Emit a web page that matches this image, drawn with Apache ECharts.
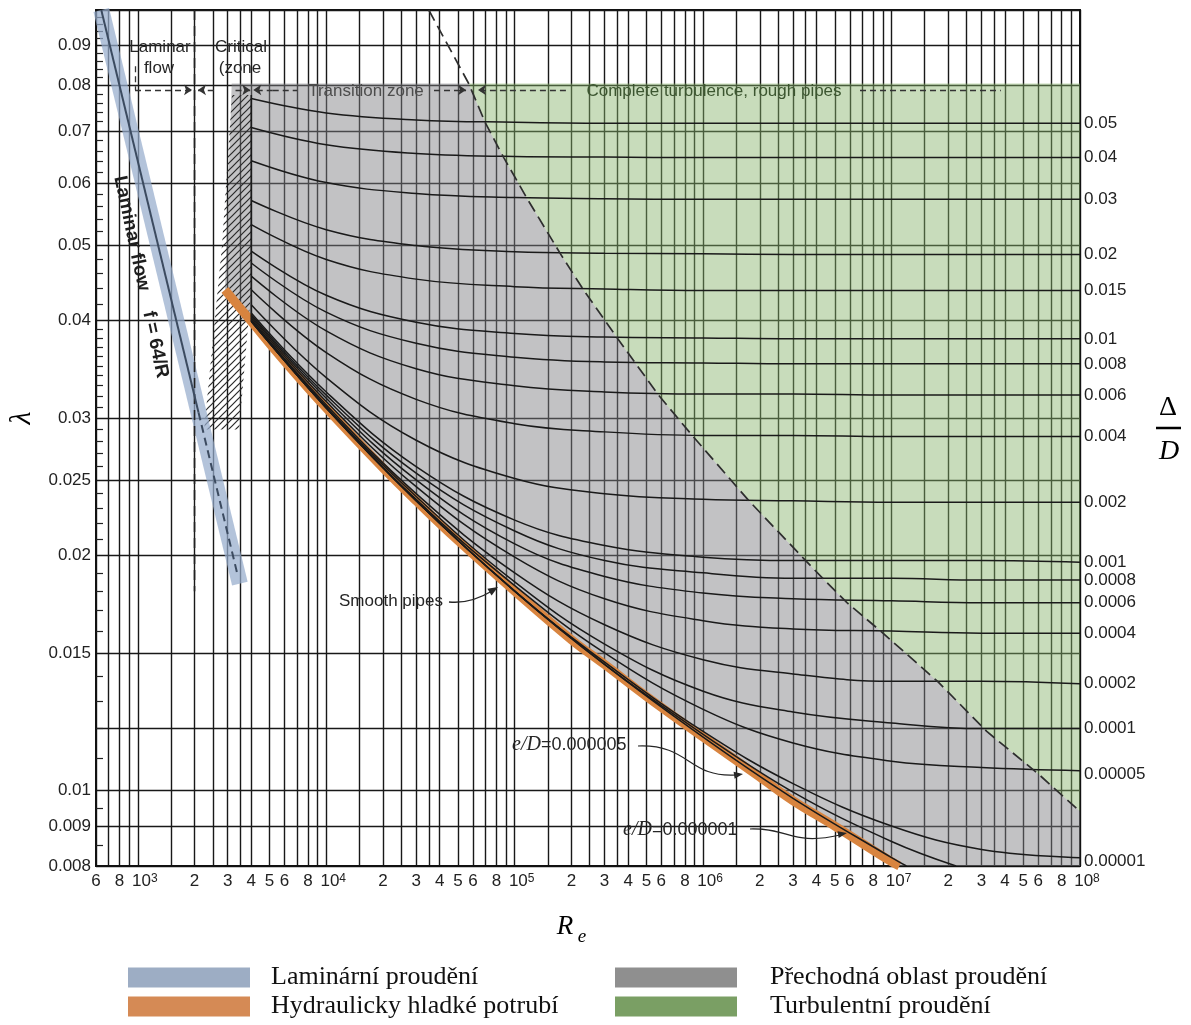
<!DOCTYPE html>
<html>
<head>
<meta charset="utf-8">
<script src="https://cdn.jsdelivr.net/npm/echarts@6/dist/echarts.min.js"></script>
<style>
  html, body { margin: 0; padding: 0; background: #fff; }
  #chart { width: 1191px; height: 1025px; }
</style>
</head>
<body>
<div id="chart"></div>
<script>
// Reynolds numbers where the rough-pipe curves are sampled
const reSamples = [4e3, 1e4, 3e4, 1e5, 3e5, 1e6, 3e6, 1e7, 3e7, 1e8];

// friction factor for each relative roughness
const f_005    = [0.0770, 0.0738, 0.0723, 0.0718, 0.0716, 0.0716, 0.0716, 0.0716, 0.0716, 0.0716];
const f_004    = [0.0707, 0.0672, 0.0655, 0.0649, 0.0648, 0.0647, 0.0647, 0.0647, 0.0647, 0.0647];
const f_003    = [0.0641, 0.0601, 0.0582, 0.0575, 0.0573, 0.0572, 0.0572, 0.0572, 0.0572, 0.0572];
const f_002    = [0.0570, 0.0523, 0.0499, 0.0490, 0.0488, 0.0487, 0.0486, 0.0486, 0.0486, 0.0486];
const f_0015   = [0.0531, 0.0479, 0.0452, 0.0442, 0.0439, 0.0437, 0.0437, 0.0437, 0.0437, 0.0437];
const f_001    = [0.0491, 0.0431, 0.0398, 0.0385, 0.0381, 0.0380, 0.0379, 0.0379, 0.0379, 0.0379];
const f_0008   = [0.0474, 0.0410, 0.0374, 0.0359, 0.0354, 0.0353, 0.0352, 0.0352, 0.0352, 0.0352];
const f_0006   = [0.0456, 0.0388, 0.0347, 0.0330, 0.0324, 0.0322, 0.0322, 0.0321, 0.0321, 0.0321];
const f_0004   = [0.0438, 0.0364, 0.0317, 0.0295, 0.0288, 0.0285, 0.0285, 0.0284, 0.0284, 0.0284];
const f_0002   = [0.0419, 0.0338, 0.0281, 0.0251, 0.0240, 0.0236, 0.0235, 0.0234, 0.0234, 0.0234];
const f_0001   = [0.0409, 0.0324, 0.0260, 0.0222, 0.0206, 0.0199, 0.0197, 0.0197, 0.0197, 0.0196];
const f_00008  = [0.0407, 0.0321, 0.0255, 0.0215, 0.0197, 0.0190, 0.0187, 0.0187, 0.0186, 0.0186];
const f_00006  = [0.0405, 0.0318, 0.0250, 0.0207, 0.0188, 0.0179, 0.0176, 0.0175, 0.0174, 0.0174];
const f_00004  = [0.0403, 0.0315, 0.0245, 0.0199, 0.0176, 0.0165, 0.0161, 0.0160, 0.0159, 0.0159];
const f_00002  = [0.0401, 0.0312, 0.0240, 0.0190, 0.0163, 0.0147, 0.0141, 0.0138, 0.0138, 0.0137];
const f_00001  = [0.0400, 0.0310, 0.0238, 0.0185, 0.0154, 0.0134, 0.0126, 0.0122, 0.0120, 0.0120];
const f_000005 = [0.0399, 0.0310, 0.0236, 0.0183, 0.0150, 0.0127, 0.0115, 0.0109, 0.0107, 0.0106];
const f_000001 = [0.0399, 0.0309, 0.0235, 0.0180, 0.0146, 0.0119, 0.0102, 0.0090, 0.0084, 0.0082];

// the two smallest roughness curves leave the chart at the bottom
const re5e6 = [4e3, 1e4, 3e4, 1e5, 3e5, 1e6, 3e6, 1e7, 2.2e7];
const f_5e6 = [0.0399, 0.0309, 0.0235, 0.0180, 0.0145, 0.0118, 0.00995, 0.0086, 0.0080];
const re1e6 = [4e3, 1e4, 3e4, 1e5, 3e5, 1e6, 3e6, 1e7, 1.2e7];
const f_1e6 = [0.0399, 0.0309, 0.0235, 0.0180, 0.0145, 0.0117, 0.00977, 0.0082, 0.0080];

// smooth pipes (orange band)
const smoothRe = [2900, 4e3, 6e3, 1e4, 2e4, 3e4, 5e4, 1e5, 2e5, 3e5, 5e5, 1e6, 2e6, 3e6, 5e6, 1e7, 1.1e7];
const smoothF  = [0.0438, 0.0399, 0.0355, 0.0309, 0.0259, 0.0235, 0.0209, 0.0180, 0.0156, 0.0145, 0.0132, 0.0117, 0.0104, 0.0097, 0.0090, 0.0081, 0.0080];

// laminar flow f = 64/Re
const lamRe = [640, 3480];
const lamF  = [0.1, 0.0184];
const lamSolidRe = [640, 2100];
const lamSolidF  = [0.1, 0.0305];
const lamDashRe  = [2100, 3400];
const lamDashF   = [0.0305, 0.0188];

// dashed border of complete turbulence
const boundaryRe = [3.5e4, 5.7e4, 7e4, 8.75e4, 1.17e5, 1.75e5, 2.33e5, 3.5e5, 4.4e5, 5.8e5, 8.75e5, 1.75e6, 3.5e6, 4.4e6, 5.8e6, 8.75e6, 1.75e7, 3.2e7, 6e7, 1e8];
const boundaryF  = [0.100, 0.0805, 0.0716, 0.0647, 0.0572, 0.0487, 0.0437, 0.0380, 0.0352, 0.0321, 0.0285, 0.0235, 0.0197, 0.0186, 0.0174, 0.0160, 0.0138, 0.0119, 0.0105, 0.0094];
const zoneTopF = 0.0805;
const zoneLeftRe = 3150;

// hatched critical zone
const hatchRe = [3160, 4035, 4035, 3450, 2250, 2800];
const hatchF  = [0.0778, 0.0778, 0.045, 0.029, 0.029, 0.05];

// axes
const xTickVals = [600, 800, 1e3, 2e3, 3e3, 4e3, 5e3, 6e3, 8e3, 1e4, 2e4, 3e4, 4e4, 5e4, 6e4, 8e4, 1e5,
  2e5, 3e5, 4e5, 5e5, 6e5, 8e5, 1e6, 2e6, 3e6, 4e6, 5e6, 6e6, 8e6, 1e7, 2e7, 3e7, 4e7, 5e7, 6e7, 8e7, 1e8];
const xTickLabels = ['6', '8', '{b|10}{e|3}', '2', '3', '4', '5', '6', '8', '{b|10}{e|4}', '2', '3', '4', '5', '6', '8', '{b|10}{e|5}',
  '2', '3', '4', '5', '6', '8', '{b|10}{e|6}', '2', '3', '4', '5', '6', '8', '{b|10}{e|7}', '2', '3', '4', '5', '6', '8', '{b|10}{e|8}'];
const xGridSteps = [1, 1.5, 2, 2.5, 3, 3.5, 4, 5, 6, 7, 8, 9];
const xGridDecades = [1e2, 1e3, 1e4, 1e5, 1e6, 1e7, 1e8];

const yTickVals = [0.008, 0.009, 0.01, 0.015, 0.02, 0.025, 0.03, 0.04, 0.05, 0.06, 0.07, 0.08, 0.09];
const yTickLabels = ['0.008', '0.009', '0.01', '0.015', '0.02', '0.025', '0.03', '0.04', '0.05', '0.06', '0.07', '0.08', '0.09'];
const yGridVals = [0.008, 0.009, 0.01, 0.012, 0.015, 0.02, 0.025, 0.03, 0.04, 0.05, 0.06, 0.07, 0.08, 0.09, 0.1];
const yMinorVals = [0.0085, 0.0095, 0.011, 0.012, 0.013, 0.014, 0.016, 0.017, 0.018, 0.019, 0.021, 0.022, 0.023, 0.024,
  0.026, 0.027, 0.028, 0.029, 0.031, 0.032, 0.033, 0.034, 0.035, 0.036, 0.037, 0.038, 0.039, 0.042, 0.044, 0.046, 0.048,
  0.052, 0.054, 0.056, 0.058, 0.062, 0.064, 0.066, 0.068, 0.072, 0.074, 0.076, 0.078, 0.082, 0.084, 0.086, 0.088,
  0.092, 0.094, 0.096, 0.098];

// relative roughness labels on the right, at each curve's fully rough value
const rightVals = [0.0716, 0.0647, 0.0572, 0.0487, 0.0437, 0.0379, 0.0352, 0.0321, 0.0284, 0.0234, 0.0196, 0.0186, 0.0174, 0.0159, 0.0137, 0.0120, 0.0105, 0.0081];
const rightLabels = ['0.05', '0.04', '0.03', '0.02', '0.015', '0.01', '0.008', '0.006', '0.004', '0.002', '0.001', '0.0008', '0.0006', '0.0004', '0.0002', '0.0001', '0.00005', '0.00001'];

const roughCurves = [f_005, f_004, f_003, f_002, f_0015, f_001, f_0008, f_0006, f_0004, f_0002,
  f_0001, f_00008, f_00006, f_00004, f_00002, f_00001, f_000005, f_000001];

const FONT = "'Liberation Sans', Arial, sans-serif";
const SERIF = "'Liberation Serif', 'Times New Roman', serif";

const pairs = (xs, ys) => xs.map((x, i) => [x, ys[i]]);
function nearest(arr, v) {
  let best = 0, bd = Infinity;
  arr.forEach((a, i) => { const d = Math.abs(Math.log(a / v)); if (d < bd) { bd = d; best = i; } });
  return best;
}

const xGridVals = [];
xGridDecades.forEach(d => xGridSteps.forEach(s => { const v = d * s; if (v >= 600 && v <= 1e8) xGridVals.push(v); }));

const boundaryPts = pairs(boundaryRe, boundaryF);
const greyPoly = [[zoneLeftRe, zoneTopF]]
  .concat(boundaryPts.filter(p => p[1] <= zoneTopF))
  .concat([[1e8, 0.008]])
  .concat(pairs(smoothRe, smoothF).reverse());
const greenPoly = [[boundaryRe[1], zoneTopF], [1e8, zoneTopF]]
  .concat(boundaryPts.filter(p => p[1] <= zoneTopF).reverse());
const hatchPoly = pairs(hatchRe, hatchF);

// hatch pattern
const hatch = document.createElement('canvas');
hatch.width = 7; hatch.height = 7;
const hc = hatch.getContext('2d');
hc.strokeStyle = '#2a2a2a'; hc.lineWidth = 1.2;
hc.beginPath();
hc.moveTo(0, 7); hc.lineTo(7, 0);
hc.moveTo(-1, 1); hc.lineTo(1, -1);
hc.moveTo(6, 8); hc.lineTo(8, 6);
hc.stroke();

function polygonSeries(name, pts, fill, z, color) {
  return {
    type: 'custom', name, data: pts, z, silent: true,
    itemStyle: { color: color || '#888' },
    renderItem: (params, api) => {
      if (params.dataIndex !== 0) return null;
      return { type: 'polygon', shape: { points: pts.map(p => api.coord(p)) }, style: { fill } };
    }
  };
}

function lineSeries(data, style, z, extra) {
  return Object.assign({ type: 'line', data, symbol: 'none', silent: true, z, lineStyle: style }, extra || {});
}

const series = [
  polygonSeries('Přechodná oblast proudění', greyPoly, 'rgba(128,128,132,0.48)', 1, '#8f8f8f'),
  polygonSeries('Turbulentní proudění', greenPoly, 'rgba(134,178,104,0.45)', 1, '#7a9f64'),
  polygonSeries('hatch', hatchPoly, { image: hatch, repeat: 'repeat' }, 2),
  lineSeries(pairs(lamRe, lamF), { color: 'rgba(150,172,204,0.72)', width: 16, cap: 'butt' }, 3,
    { name: 'Laminární proudění', itemStyle: { color: '#9dadc4' } }),
  lineSeries(pairs(smoothRe, smoothF), { color: '#d8843f', width: 9 }, 3,
    { name: 'Hydraulicky hladké potrubí', smooth: 0.4, itemStyle: { color: '#d58a55' } }),
];

roughCurves.forEach(f => series.push(lineSeries(pairs(reSamples, f), { color: '#1a1a1a', width: 1.5 }, 4, { smooth: 0.4 })));
series.push(lineSeries(pairs(re5e6, f_5e6), { color: '#1a1a1a', width: 1.5 }, 4, { smooth: 0.4 }));
series.push(lineSeries(pairs(re1e6, f_1e6), { color: '#1a1a1a', width: 1.5 }, 4, { smooth: 0.4 }));

// start line of the curves at Re = 4000 and the dashed Re = 2000 line
series.push(lineSeries([[4000, 0.0778], [4000, 0.0399]], { color: '#1a1a1a', width: 1.6 }, 4));
series.push(lineSeries([[2000, 0.1], [2000, 0.018]], { color: '#222', width: 1.6, type: [10, 6] }, 4));

// laminar centre line
series.push(lineSeries(pairs(lamSolidRe, lamSolidF), { color: '#3c4b60', width: 2 }, 5));
series.push(lineSeries(pairs(lamDashRe, lamDashF), { color: '#3c4b60', width: 2, type: [8, 5] }, 5));

// complete turbulence border
series.push(lineSeries(boundaryPts, { color: '#2e2e2e', width: 1.7, type: [12, 6] }, 5));

// zone arrows along the top
const arrowSegs = [
  [[966, 0.079], [1940, 0.079]],
  [[2530, 0.079], [2086, 0.079]],
  [[3300, 0.079], [3950, 0.079]],
  [[5200, 0.079], [4100, 0.079]],
  [[37300, 0.079], [55200, 0.079]],
  [[187000, 0.079], [63900, 0.079]]
];
const plainSegs = [
  [[966, 0.0847], [966, 0.079]],
  [[5200, 0.079], [7000, 0.079]],
  [[6.8e6, 0.079], [3.8e7, 0.079]]
];
series.push({
  type: 'lines', coordinateSystem: 'cartesian2d', silent: true, z: 6,
  symbol: ['none', 'arrow'], symbolSize: 8,
  lineStyle: { color: '#333', width: 1.3, type: [6, 4], opacity: 1 },
  data: arrowSegs.map(c => ({ coords: c }))
});
series.push({
  type: 'lines', coordinateSystem: 'cartesian2d', silent: true, z: 6,
  symbol: ['none', 'none'],
  lineStyle: { color: '#333', width: 1.3, type: [6, 4], opacity: 1 },
  data: plainSegs.map(c => ({ coords: c }))
});

function txt(text, x, y, font, extra) {
  return Object.assign({
    type: 'text', x, y, z: 50, silent: true,
    style: Object.assign({ text, font: font || ('17px ' + FONT), fill: '#262626', align: 'center', verticalAlign: 'middle' }, (extra && extra.style) || {})
  }, extra && extra.rotation !== undefined ? { rotation: extra.rotation } : {});
}

const graphic = [
  txt('Laminar', 160, 47), txt('flow', 159, 68),
  txt('Critical', 241, 47), txt('(zone', 240, 68),
  txt('Transition zone', 366, 91, null, { style: { fill: '#4d4d4d' } }),
  txt('Complete turbulence, rough pipes', 714, 91, null, { style: { fill: '#3c5630' } }),
  txt('Laminar flow    f = 64/R', 141, 277, 'bold 19px ' + FONT, { rotation: -1.36, style: { fill: '#1e1e1e' } }),
  txt('Smooth pipes', 391, 601),
  {
    type: 'text', x: 512, y: 745, z: 50, silent: true,
    style: {
      text: '{i|e/D}=0.000005', font: '18px ' + FONT, fill: '#262626', align: 'left', verticalAlign: 'middle',
      rich: { i: { fontFamily: SERIF, fontStyle: 'italic', fontSize: 20, fill: '#262626' } }
    }
  },
  {
    type: 'text', x: 623, y: 830, z: 50, silent: true,
    style: {
      text: '{i|e/D}=0.000001', font: '18px ' + FONT, fill: '#262626', align: 'left', verticalAlign: 'middle',
      rich: { i: { fontFamily: SERIF, fontStyle: 'italic', fontSize: 20, fill: '#262626' } }
    }
  },
  { type: 'bezierCurve', z: 50, silent: true, shape: { x1: 449, y1: 602, cpx1: 468, cpy1: 604, cpx2: 482, cpy2: 597, x2: 492, y2: 591 }, style: { stroke: '#262626', lineWidth: 1.4, fill: null } },
  { type: 'polygon', z: 50, silent: true, shape: { points: [[498, 587], [491.6, 595.6], [487.4, 588.8]] }, style: { fill: '#262626' } },
  { type: 'bezierCurve', z: 50, silent: true, shape: { x1: 638, y1: 746, cpx1: 690, cpy1: 744, cpx2: 688, cpy2: 778, x2: 736, y2: 775 }, style: { stroke: '#262626', lineWidth: 1.2, fill: null } },
  { type: 'polygon', z: 50, silent: true, shape: { points: [[743, 774], [734.6, 778.8], [733.6, 771.8]] }, style: { fill: '#262626' } },
  { type: 'bezierCurve', z: 50, silent: true, shape: { x1: 750, y1: 829, cpx1: 790, cpy1: 828, cpx2: 792, cpy2: 846, x2: 840, y2: 835 }, style: { stroke: '#262626', lineWidth: 1.2, fill: null } },
  { type: 'polygon', z: 50, silent: true, shape: { points: [[847, 833], [838.7, 838.0], [837.5, 831.2]] }, style: { fill: '#262626' } },
  // axis names
  txt('λ', 22, 418, 'italic 30px ' + SERIF, { rotation: Math.PI / 2, style: { fill: '#000' } }),
  txt('R', 565, 927, 'italic 27px ' + SERIF, { style: { fill: '#000' } }),
  txt('e', 582, 937, 'italic 19px ' + SERIF, { style: { fill: '#000' } }),
  txt('Δ', 1168, 408, '28px ' + SERIF, { style: { fill: '#000' } }),
  { type: 'line', z: 50, silent: true, shape: { x1: 1156, y1: 428, x2: 1181, y2: 428 }, style: { stroke: '#000', lineWidth: 2.5 } },
  txt('D', 1169, 452, 'italic 28px ' + SERIF, { style: { fill: '#000' } })
];

const logY = { type: 'log', logBase: 10, min: 0.008, max: 0.1 };
const gridLine = { color: '#181818', width: 1.4 };

const option = {
  animation: false,
  backgroundColor: '#fff',
  grid: { left: 96, top: 10, width: 984, height: 856, show: true, borderColor: '#111', borderWidth: 1.8, containLabel: false, outerBoundsMode: 'none' },
  xAxis: [{
    type: 'log', logBase: 10, min: 600, max: 1e8, position: 'bottom',
    axisLine: { show: true, lineStyle: { color: '#111', width: 1.8 } },
    axisTick: { show: false, customValues: xGridVals },
    splitLine: { show: true, lineStyle: gridLine },
    axisLabel: {
      customValues: xTickVals, margin: 7, color: '#222', fontFamily: FONT, fontSize: 17,
      formatter: v => xTickLabels[nearest(xTickVals, v)],
      rich: {
        b: { fontSize: 17, fontFamily: FONT, color: '#222', padding: [0, 0, 0, 14] },
        e: { fontSize: 12, fontFamily: FONT, color: '#222', verticalAlign: 'top' }
      }
    }
  }],
  yAxis: [
    Object.assign({}, logY, {
      position: 'left',
      axisLine: { show: true, lineStyle: { color: '#111', width: 1.8 } },
      axisTick: { show: false, customValues: yGridVals },
      splitLine: { show: true, lineStyle: gridLine },
      axisLabel: {
        customValues: yTickVals, margin: 5, color: '#222', fontFamily: FONT, fontSize: 17,
        formatter: v => yTickLabels[nearest(yTickVals, v)]
      }
    }),
    Object.assign({}, logY, {
      position: 'right',
      axisLine: { show: true, lineStyle: { color: '#111', width: 1.8 } },
      axisTick: { show: false },
      splitLine: { show: false },
      axisLabel: {
        customValues: rightVals, margin: 4, color: '#222', fontFamily: FONT, fontSize: 17,
        formatter: v => rightLabels[nearest(rightVals, v)]
      }
    }),
    Object.assign({}, logY, {
      position: 'left',
      axisLine: { show: false },
      axisLabel: { show: false },
      splitLine: { show: false },
      axisTick: { show: true, inside: true, length: 7, customValues: yMinorVals, lineStyle: { color: '#222', width: 1.2 } }
    })
  ],
  legend: [
    {
      orient: 'vertical', left: 128, top: 963, padding: 0, itemWidth: 122, itemHeight: 20, itemGap: 0,
      icon: 'rect', selectedMode: false,
      textStyle: { fontFamily: SERIF, fontSize: 26, color: '#111', lineHeight: 29, padding: [0, 0, 0, 16] },
      data: [
        { name: 'Laminární proudění', itemStyle: { color: '#9dadc4', borderWidth: 0 } },
        { name: 'Hydraulicky hladké potrubí', itemStyle: { color: '#d58a55', borderWidth: 0 } }
      ]
    },
    {
      orient: 'vertical', left: 615, top: 963, padding: 0, itemWidth: 122, itemHeight: 20, itemGap: 0,
      icon: 'rect', selectedMode: false,
      textStyle: { fontFamily: SERIF, fontSize: 26, color: '#111', lineHeight: 29, padding: [0, 0, 0, 28] },
      data: [
        { name: 'Přechodná oblast proudění', itemStyle: { color: '#8f8f8f', borderWidth: 0 } },
        { name: 'Turbulentní proudění', itemStyle: { color: '#7a9f64', borderWidth: 0 } }
      ]
    }
  ],
  graphic,
  series
};

const chart = echarts.init(document.getElementById('chart'), null, { renderer: 'canvas' });
chart.setOption(option);
</script>
</body>
</html>
